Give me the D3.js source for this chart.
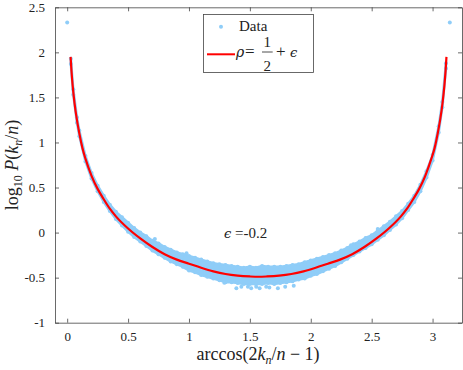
<!DOCTYPE html>
<html lang="en">
<head>
    <meta charset="UTF-8">
    <title>Scatter and fit</title>
    <script src="https://d3js.org/d3.v7.min.js"></script>
    <style>
        body {margin: 0; background: #fff;}
        text {font-family: "Liberation Serif", "DejaVu Serif", serif; fill: #222;}
        .axis path, .axis line {stroke: #444; stroke-width: 0.8px;}
        .greek {font-family: "DejaVu Serif", serif; font-style: italic;}
    </style>
</head>
<body>
<script>
    const width  = 463;
    const height = 370;

    // fitted curve rho = 1/2 + eps
    const fitTheta = [0.028, 0.035, 0.045, 0.06, 0.08, 0.1, 0.125, 0.15, 0.2, 0.25, 0.3, 0.35, 0.4, 0.5, 0.6, 0.7, 0.8, 0.9, 1.0, 1.1, 1.2, 1.3, 1.4, 1.5, 1.5708,
                      1.64, 1.74, 1.84, 1.94, 2.04, 2.14, 2.24, 2.34, 2.44, 2.54, 2.64, 2.74, 2.79, 2.84, 2.89, 2.94, 2.99, 3.017, 3.042, 3.062, 3.082, 3.097, 3.107, 3.114];
    const fitLogP  = [1.95, 1.80, 1.63, 1.44, 1.25, 1.10, 0.94, 0.82, 0.63, 0.485, 0.37, 0.265, 0.18, 0.045, -0.065, -0.16, -0.24, -0.30, -0.345, -0.39, -0.43, -0.46, -0.478, -0.487, -0.49,
                      -0.487, -0.478, -0.46, -0.43, -0.39, -0.345, -0.30, -0.24, -0.16, -0.065, 0.045, 0.18, 0.265, 0.37, 0.485, 0.63, 0.82, 0.94, 1.10, 1.25, 1.44, 1.63, 1.80, 1.95];

    // envelope of the dense Data cloud
    const bandTheta = [0.03, 0.05, 0.08, 0.10, 0.15, 0.20, 0.25, 0.30, 0.35, 0.40, 0.45, 0.50, 0.55, 0.60, 0.65, 0.70, 0.75, 0.80, 0.85, 0.90, 0.95, 1.00, 1.05, 1.10, 1.15, 1.20, 1.25, 1.30, 1.35, 1.40, 1.45, 1.50, 1.55, 1.60, 1.65, 1.70, 1.75, 1.80, 1.85, 1.90, 1.95, 2.00, 2.05, 2.10, 2.15, 2.20, 2.25, 2.30, 2.35, 2.40, 2.45, 2.50, 2.55, 2.60, 2.65, 2.70, 2.75, 2.80, 2.85, 2.90, 2.95, 3.00, 3.05, 3.08, 3.11];
    const bandUpper = [1.93, 1.59, 1.28, 1.13, 0.85, 0.66, 0.52, 0.41, 0.31, 0.23, 0.17, 0.11, 0.05, 0.00, -0.04, -0.09, -0.12, -0.16, -0.19, -0.22, -0.24, -0.26, -0.28, -0.30, -0.32, -0.34, -0.35, -0.36, -0.37, -0.38, -0.39, -0.38, -0.39, -0.37, -0.38, -0.38, -0.38, -0.37, -0.36, -0.35, -0.33, -0.31, -0.29, -0.27, -0.25, -0.23, -0.20, -0.17, -0.13, -0.10, -0.06, -0.03, 0.02, 0.07, 0.12, 0.18, 0.24, 0.32, 0.41, 0.53, 0.68, 0.86, 1.18, 1.45, 1.88];
    const bandLower = [1.87, 1.53, 1.22, 1.07, 0.79, 0.60, 0.46, 0.34, 0.24, 0.15, 0.08, 0.01, -0.05, -0.10, -0.15, -0.20, -0.24, -0.28, -0.32, -0.35, -0.38, -0.42, -0.44, -0.47, -0.49, -0.51, -0.53, -0.55, -0.55, -0.56, -0.57, -0.57, -0.57, -0.57, -0.56, -0.57, -0.56, -0.55, -0.54, -0.52, -0.51, -0.48, -0.46, -0.43, -0.40, -0.37, -0.33, -0.29, -0.25, -0.21, -0.17, -0.13, -0.08, -0.03, 0.03, 0.09, 0.16, 0.25, 0.34, 0.46, 0.61, 0.80, 1.11, 1.39, 1.82];

    // isolated Data points (ends and strays round the cloud)
    const strayTheta = [0, Math.PI, 1.29, 1.389, 1.43, 1.484, 1.511, 1.552, 1.58, 1.634, 1.66, 1.73, 1.79, 1.86, 0.72, 0.98, 2.33, 2.55];
    const strayLogP  = [2.33, 2.33, -0.556, -0.618, -0.60, -0.60, -0.618, -0.60, -0.618, -0.60, -0.61, -0.618, -0.60, -0.59, -0.07, -0.23, -0.14, 0.04];

    const xTicks = [0, 0.5, 1, 1.5, 2, 2.5, 3];
    const yTicks = [-1, -0.5, 0, 0.5, 1, 1.5, 2, 2.5];

    const blue = "#8fcdf8";
    const serif = "'Liberation Serif', 'DejaVu Serif', serif";

    const scaleX = d3.scaleLinear().domain([-0.1, Math.PI + 0.1]).range([55, 462]);
    const scaleY = d3.scaleLinear().domain([-1, 2.5]).range([322.7, 7.3]);

    const svg = d3.select("body").append("svg").attr("width", width).attr("height", height);

    // data cloud
    const band = bandTheta.map((t, i) => [t, bandUpper[i], bandLower[i]]);
    svg.append("path")
        .attr("d", d3.area().x(d => scaleX(d[0])).y0(d => scaleY(d[2])).y1(d => scaleY(d[1]))(band))
        .attr("fill", blue)
        .attr("stroke", blue)
        .attr("stroke-width", 2.5)
        .attr("stroke-linejoin", "round");

    const edgePts = band.map(d => [d[0], d[1]]).concat(band.map(d => [d[0], d[2]]));
    svg.append("g").selectAll("circle").data(edgePts).join("circle")
        .attr("cx", d => scaleX(d[0])).attr("cy", d => scaleY(d[1]))
        .attr("r", 2).attr("fill", blue);

    svg.append("g").selectAll("circle").data(strayTheta.map((t, i) => [t, strayLogP[i]])).join("circle")
        .attr("cx", d => scaleX(d[0])).attr("cy", d => scaleY(d[1]))
        .attr("r", 2).attr("fill", blue);

    // fit
    const line = d3.line().x(d => scaleX(d[0])).y(d => scaleY(d[1])).curve(d3.curveMonotoneX);
    svg.append("path")
        .attr("d", line(fitTheta.map((t, i) => [t, fitLogP[i]])))
        .attr("fill", "none")
        .attr("stroke", "#ff0000")
        .attr("stroke-width", 2.2);

    // axes, box on, ticks inward
    const fmt = d => String(d);
    svg.append("g").attr("class", "axis").attr("transform", "translate(0,322.7)")
        .call(d3.axisBottom(scaleX).tickValues(xTicks).tickFormat(fmt).tickSizeInner(-4).tickSizeOuter(0).tickPadding(9));
    svg.append("g").attr("class", "axis").attr("transform", "translate(0,7.3)")
        .call(d3.axisTop(scaleX).tickValues(xTicks).tickFormat("").tickSizeInner(-4).tickSizeOuter(0));
    svg.append("g").attr("class", "axis").attr("transform", "translate(55,0)")
        .call(d3.axisLeft(scaleY).tickValues(yTicks).tickFormat(fmt).tickSizeInner(-4).tickSizeOuter(0).tickPadding(10));
    svg.append("g").attr("class", "axis").attr("transform", "translate(462,0)")
        .call(d3.axisRight(scaleY).tickValues(yTicks).tickFormat("").tickSizeInner(-4).tickSizeOuter(0));
    svg.selectAll(".axis").attr("font-family", serif).attr("font-size", 13);
    svg.selectAll(".axis text").style("font-family", serif).style("font-size", "13px").style("fill", "#222");

    // annotation
    const ann = svg.append("text").attr("x", 224).attr("y", 238).style("font-size", "15px");
    ann.append("tspan").attr("class", "greek").style("font-size", "13px").text("\u03f5");
    ann.append("tspan").text(" =-0.2");

    // axis labels
    const xl = svg.append("text").attr("x", 258).attr("y", 360).attr("text-anchor", "middle").style("font-size", "18px");
    xl.append("tspan").text("arccos(2");
    xl.append("tspan").style("font-style", "italic").text("k");
    xl.append("tspan").style("font-style", "italic").style("font-size", "12px").attr("dy", 4).text("n");
    xl.append("tspan").attr("dy", -4).text("/");
    xl.append("tspan").style("font-style", "italic").text("n");
    xl.append("tspan").text(" \u2212 1)");

    const yl = svg.append("text").attr("transform", "translate(18,165) rotate(-90)").attr("text-anchor", "middle").style("font-size", "18px");
    yl.append("tspan").text("log");
    yl.append("tspan").style("font-size", "12px").attr("dy", 4).text("10");
    yl.append("tspan").attr("dy", -4).style("font-style", "italic").text(" P");
    yl.append("tspan").text("(");
    yl.append("tspan").style("font-style", "italic").text("k");
    yl.append("tspan").style("font-style", "italic").style("font-size", "12px").attr("dy", 4).text("n");
    yl.append("tspan").attr("dy", -4).text("/");
    yl.append("tspan").style("font-style", "italic").text("n");
    yl.append("tspan").text(")");

    // legend
    const lg = svg.append("g");
    lg.append("rect").attr("x", 203.5).attr("y", 14.5).attr("width", 110).attr("height", 58)
        .attr("fill", "#fff").attr("stroke", "#444").attr("stroke-width", 0.8);
    lg.append("circle").attr("cx", 221).attr("cy", 26.7).attr("r", 2).attr("fill", blue);
    lg.append("text").attr("x", 239).attr("y", 31).style("font-size", "15px").text("Data");
    lg.append("line").attr("x1", 207).attr("x2", 235).attr("y1", 54.3).attr("y2", 54.3)
        .attr("stroke", "#ff0000").attr("stroke-width", 2);
    lg.append("text").attr("class", "greek").attr("x", 236).attr("y", 57).style("font-size", "14px").text("\u03c1");
    lg.append("text").attr("x", 245).attr("y", 57).style("font-size", "17px").text("=");
    lg.append("text").attr("x", 267.3).attr("y", 47).attr("text-anchor", "middle").style("font-size", "15px").text("1");
    lg.append("line").attr("x1", 262).attr("x2", 272.7).attr("y1", 52).attr("y2", 52).attr("stroke", "#222").attr("stroke-width", 0.8);
    lg.append("text").attr("x", 267.3).attr("y", 70.5).attr("text-anchor", "middle").style("font-size", "15px").text("2");
    lg.append("text").attr("x", 276).attr("y", 57).style("font-size", "17px").text("+");
    lg.append("text").attr("class", "greek").attr("x", 290).attr("y", 57).style("font-size", "13px").text("\u03f5");
</script>
</body>
</html>
